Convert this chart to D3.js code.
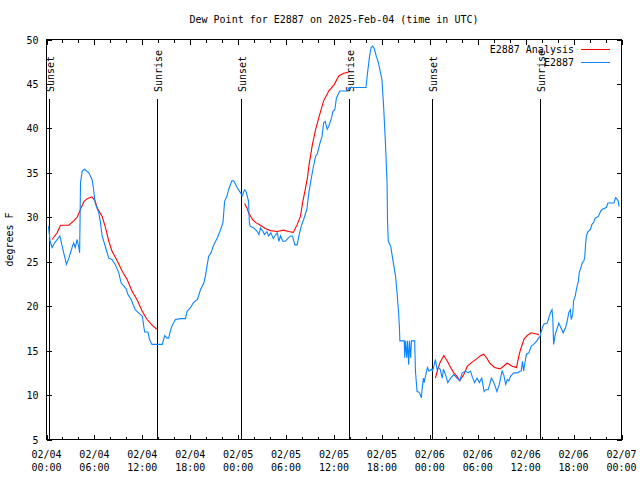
<!DOCTYPE html>
<html><head><meta charset="utf-8">
<script src="https://cdn.jsdelivr.net/npm/d3@7"></script>
<style>
html,body{margin:0;padding:0;background:#fff;}
svg text{font-family:"DejaVu Sans Mono","Liberation Mono",monospace;font-size:10px;fill:#000;}
</style></head>
<body>
<svg id="c" width="640" height="480"></svg>
<script>
// ---- data (hours after 2025-02-04 00:00 UTC, degrees F) ----
const titleText = "Dew Point for E2887 on 2025-Feb-04 (time in UTC)";
const yTicks = [5,10,15,20,25,30,35,40,45,50];
const xLabelDates = ["02/04","02/04","02/04","02/04","02/05","02/05","02/05","02/05","02/06","02/06","02/06","02/06","02/07"];
const xLabelTimes = ["00:00","06:00","12:00","18:00","00:00","06:00","12:00","18:00","00:00","06:00","12:00","18:00","00:00"];
const sunHours = [0.29, 13.81, 24.33, 37.85, 48.25, 61.77];
const sunLabels = ["Sunset","Sunrise","Sunset","Sunrise","Sunset","Sunrise"];

const observed = [
[0.25,29.0],[0.45,27.3],[0.7,26.6],[1.0,27.1],[1.67,27.9],[1.96,26.75],[2.5,24.7],[2.8,25.4],[3.2,26.6],[3.4,27.1],[3.6,26.6],[3.84,27.5],[4.05,26.6],[4.15,26.0],[4.26,33.9],[4.47,35.2],[4.76,35.4],[5.3,35.0],[5.7,34.25],[5.9,33.1],[6.1,31.6],[6.55,30.5],[6.76,29.4],[6.97,27.9],[7.4,26.6],[7.8,25.4],[8.2,25.25],[8.6,24.7],[9.05,23.75],[9.35,22.6],[9.7,22.25],[10.0,21.9],[10.2,21.3],[10.6,20.75],[11.1,19.6],[11.7,19.1],[12.0,18.9],[12.2,17.6],[12.3,17.1],[12.7,17.1],[12.9,16.25],[13.2,15.7],[14.5,15.7],[14.8,16.7],[15.1,16.4],[15.3,16.4],[15.5,17.2],[15.7,17.75],[15.9,18.1],[16.15,18.5],[16.8,18.6],[17.4,18.6],[17.6,19.4],[18.0,19.8],[18.4,20.4],[18.9,20.75],[19.3,21.9],[19.7,22.6],[19.9,23.4],[20.1,24.5],[20.3,25.6],[20.6,26.0],[20.95,26.9],[21.4,27.7],[21.8,28.6],[22.1,29.4],[22.3,31.8],[22.6,32.4],[22.8,33.1],[23.2,34.1],[23.45,34.1],[23.9,33.3],[24.3,32.75],[24.5,32.4],[24.8,33.1],[25.0,32.9],[25.3,31.8],[25.4,29.4],[25.5,29.0],[25.96,28.8],[26.4,28.4],[26.6,28.06],[26.8,28.8],[27.1,28.4],[27.3,28.06],[27.6,28.4],[27.8,27.9],[28.1,28.25],[28.4,27.6],[28.7,28.06],[28.9,28.25],[29.1,27.3],[29.3,27.9],[29.6,27.3],[29.9,27.3],[30.2,27.6],[30.55,27.9],[30.8,27.9],[31.1,26.9],[31.4,26.9],[31.6,27.9],[31.9,29.0],[32.2,29.75],[32.6,30.9],[32.85,32.75],[33.2,34.6],[33.4,35.6],[33.7,36.9],[33.9,37.1],[34.2,38.2],[34.5,39.1],[34.7,40.6],[34.9,40.8],[35.15,39.9],[35.35,40.25],[35.7,41.2],[35.85,41.9],[36.1,42.1],[36.3,43.4],[36.7,44.2],[37.65,44.2],[37.9,44.6],[40.0,44.6],[40.2,46.25],[40.45,48.1],[40.65,49.1],[40.85,49.25],[41.07,48.9],[41.3,48.1],[41.5,47.6],[41.7,46.8],[42.0,45.5],[42.2,42.7],[42.45,38.2],[42.65,33.7],[42.7,29.6],[42.8,27.3],[43.1,26.75],[43.3,25.6],[43.5,24.5],[43.7,23.4],[43.9,21.5],[44.1,19.1],[44.2,17.4],[44.25,16.1],
[44.8,16.1],[44.85,14.2],[44.95,16.1],[45.1,14.2],[45.2,16.1],[45.35,13.4],[45.45,16.1],[45.6,14.2],[45.7,16.1],[46.1,16.1],[46.2,12.7],[46.4,10.4],[46.6,10.35],[46.7,10.25],[46.95,9.7],[47.0,10.4],[47.2,11.9],[47.3,11.4],[47.4,11.9],[47.7,13.1],[47.9,12.7],[48.2,12.9],[48.35,12.75],[48.5,13.25],[48.7,14.0],[48.9,12.9],[49.1,13.1],[49.3,12.9],[49.55,11.9],[49.7,12.9],[49.96,12.3],[50.25,11.4],[50.6,11.9],[51.0,12.3],[51.4,11.9],[51.75,11.6],[52.05,12.5],[52.5,12.7],[52.8,12.5],[53.1,12.7],[53.3,12.1],[53.6,11.4],[53.9,11.9],[54.2,11.4],[54.5,11.9],[54.8,10.4],[55.0,10.6],[55.3,10.6],[55.5,11.2],[55.7,11.9],[55.9,11.6],[56.1,11.2],[56.4,10.4],[56.7,11.2],[57.05,12.7],[57.25,12.3],[57.5,11.2],[57.7,11.75],[57.9,11.6],[58.1,12.1],[58.3,12.3],[58.5,12.5],[59.0,12.5],[59.3,12.7],[59.45,12.7],[59.6,13.8],[59.75,12.7],[59.9,13.6],[60.1,14.6],[60.4,14.75],[60.7,15.5],[61.0,15.7],[61.4,16.1],[61.6,16.4],[61.8,16.6],[61.9,17.0],[62.15,17.75],[62.3,18.0],[62.7,18.1],[62.9,18.7],[63.1,19.25],[63.3,19.6],[63.4,18.5],[63.5,15.7],[63.7,16.8],[64.15,18.1],[64.4,17.6],[64.7,17.0],[65.0,17.6],[65.2,18.3],[65.4,19.3],[65.6,19.6],[65.7,18.5],[65.9,19.1],[66.0,20.6],[66.2,21.1],[66.4,22.1],[66.6,22.8],[66.7,23.75],[66.9,24.3],[67.1,24.9],[67.3,25.1],[67.4,25.6],[67.5,26.9],[67.6,27.9],[67.8,28.4],[68.1,28.6],[68.3,29.2],[68.5,29.4],[68.7,29.9],[69.1,30.1],[69.4,30.7],[69.6,30.9],[70.1,31.1],[70.3,31.6],[71.05,31.6],[71.25,32.2],[71.4,32.1],[71.6,31.8],[71.7,31.2]
];

const analysis1 = [[0.7,27.5],[1.34,28.25],[1.75,29.1],[2.8,29.1],[3.4,29.6],[3.84,30.0],[4.26,30.9],[4.7,31.8],[5.1,32.1],[5.7,32.3],[6.1,31.8],[6.35,31.05],[6.97,30.1],[7.4,28.8],[7.8,27.3],[8.2,26.2],[8.85,25.1],[9.5,23.9],[10.1,23.0],[10.7,21.7],[11.4,20.6],[12.0,19.4],[12.6,18.5],[13.2,17.9],[13.8,17.4]];
const analysis2 = [[24.8,31.55],[25.1,31.05],[25.3,30.5],[25.8,29.75],[26.2,29.4],[26.8,29.1],[27.4,28.75],[28.05,28.5],[28.9,28.4],[29.7,28.55],[30.3,28.4],[30.9,28.3],[31.4,29.2],[31.8,30.1],[32.1,31.8],[32.4,33.1],[32.7,34.6],[32.85,35.75],[33.3,38.2],[33.7,39.9],[34.1,41.2],[34.7,43.1],[35.35,44.2],[36.0,44.9],[36.6,45.9],[37.2,46.2],[37.8,46.3]];
const analysis3 = [[48.7,11.9],[49.0,12.9],[49.3,13.7],[49.75,14.45],[50.2,13.8],[50.6,13.1],[51.0,12.5],[51.4,12.1],[51.75,11.6],[52.25,12.3],[52.7,13.25],[53.3,13.7],[53.9,14.1],[54.3,14.4],[54.75,14.6],[55.1,14.2],[55.5,13.6],[56.1,13.1],[56.8,12.95],[57.3,13.3],[57.7,13.6],[58.3,13.25],[58.85,13.1],[59.15,14.4],[59.35,15.1],[59.8,16.3],[60.2,16.7],[60.7,17.0],[61.2,16.9],[61.65,16.8]];

const seriesNames = ["E2887 Analysis","E2887"];
const seriesColors = ["#ff0000","#0a84ff"];

// ---- drawing ----
const svg = d3.select("#c");
const L=46.5, R=621.5, T=39.5, B=439.5;
const t0 = Date.UTC(2025,1,4,0,0);
const hr = h => new Date(t0 + h*3600000);
const x = d3.scaleUtc().domain([hr(0), hr(72)]).range([L, R]);
const y = d3.scaleLinear().domain([5,50]).range([B, T]);

svg.append("rect").attr("width",640).attr("height",480).attr("fill","#fff");

// title
svg.append("text").attr("x",(L+R)/2).attr("y",23).attr("text-anchor","middle").text(titleText);

// y label
svg.append("text").attr("transform","translate(13,"+((T+B)/2)+") rotate(-90)")
  .attr("text-anchor","middle").text("degrees F");

// axes
function cleanAxis(g){ g.select(".domain").remove(); g.selectAll("line").attr("stroke","#000").attr("shape-rendering","crispEdges"); }
const minorTicks = d3.utcHour.every(2).range(hr(0), hr(72.01));
const majorTicks = d3.utcHour.every(6).range(hr(0), hr(72.01));
svg.append("g").attr("transform",`translate(0,${B})`)
  .call(d3.axisBottom(x).tickValues(minorTicks).tickSize(-3).tickFormat("")).call(cleanAxis);
svg.append("g").attr("transform",`translate(0,${B})`)
  .call(d3.axisBottom(x).tickValues(majorTicks).tickSize(-5).tickFormat("")).call(cleanAxis);
svg.append("g").attr("transform",`translate(0,${T})`)
  .call(d3.axisTop(x).tickValues(minorTicks).tickSize(-3).tickFormat("")).call(cleanAxis);
svg.append("g").attr("transform",`translate(0,${T})`)
  .call(d3.axisTop(x).tickValues(majorTicks).tickSize(-5).tickFormat("")).call(cleanAxis);

const yl = svg.append("g").attr("transform",`translate(${L},0)`)
  .call(d3.axisLeft(y).tickValues(yTicks).tickSize(-5).tickPadding(8).tickFormat(d3.format("d")));
yl.select(".domain").remove();
yl.selectAll("line").attr("shape-rendering","crispEdges");
yl.selectAll("text").attr("dy","0.35em");
yl.attr("font-family",null).attr("font-size",null);
svg.append("g").attr("transform",`translate(${R},0)`)
  .call(d3.axisRight(y).tickValues(yTicks).tickSize(-5).tickFormat("")).call(cleanAxis);

// x labels (two lines)
const xl = svg.append("g");
majorTicks.forEach((t,i)=>{
  xl.append("text").attr("x",x(t)).attr("y",458).attr("text-anchor","middle").text(xLabelDates[i]);
  xl.append("text").attr("x",x(t)).attr("y",471).attr("text-anchor","middle").text(xLabelTimes[i]);
});

// sunrise / sunset
const sg = svg.append("g");
sunHours.forEach((h,i)=>{
  const px = Math.round(x(hr(h)))+0.5;
  sg.append("line").attr("x1",px).attr("x2",px).attr("y1",99).attr("y2",B)
    .attr("stroke","#000").attr("stroke-width",1).attr("shape-rendering","crispEdges");
  sg.append("text").attr("transform",`translate(${px+1},92) rotate(-90)`)
    .attr("text-anchor","start").attr("dy","0.35em").text(sunLabels[i]);
});

// lines
const line = d3.line().x(d=>x(hr(d[0]))).y(d=>y(d[1]));
[analysis1, analysis2, analysis3].forEach(seg=>{
  svg.append("path").datum(seg).attr("d",line).attr("fill","none")
    .attr("stroke",seriesColors[0]).attr("stroke-width",1.1);
});
svg.append("path").datum(observed).attr("d",line).attr("fill","none")
  .attr("stroke",seriesColors[1]).attr("stroke-width",1.1);

// legend
const lg = svg.append("g");
seriesNames.forEach((n,i)=>{
  const yy = 49.5 + i*13;
  lg.append("text").attr("x",574).attr("y",yy).attr("dy","0.35em").attr("text-anchor","end").text(n);
  lg.append("line").attr("x1",581).attr("x2",610).attr("y1",yy).attr("y2",yy)
    .attr("stroke",seriesColors[i]).attr("stroke-width",1).attr("shape-rendering","crispEdges");
});

// frame
svg.append("rect").attr("x",L).attr("y",T).attr("width",R-L).attr("height",B-T)
  .attr("fill","none").attr("stroke","#000").attr("stroke-width",1).attr("shape-rendering","crispEdges");
</script>
</body></html>
